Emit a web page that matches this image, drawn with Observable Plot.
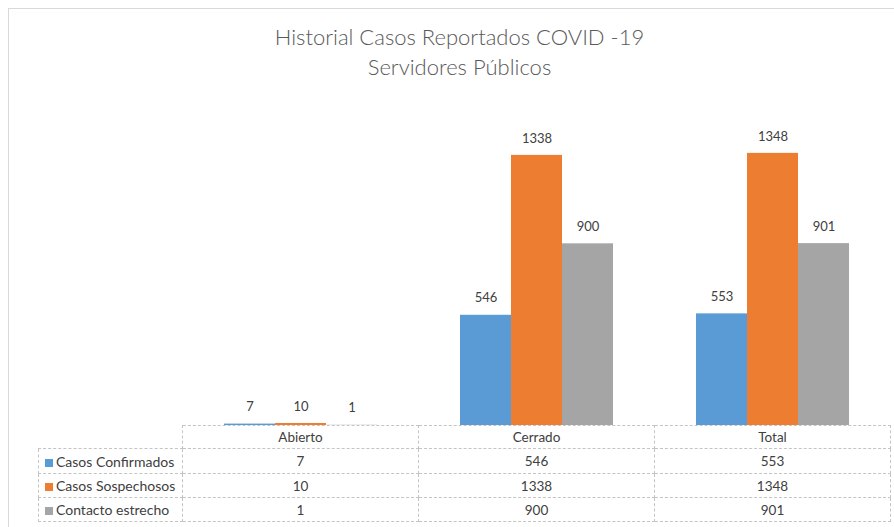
<!DOCTYPE html>
<html>
<head>
<meta charset="utf-8">
<script src="https://cdn.jsdelivr.net/npm/d3@7"></script>
<script src="https://cdn.jsdelivr.net/npm/@observablehq/plot@0.6"></script>
<style>
  html, body { margin: 0; padding: 0; background: #fff; }
  body { width: 894px; height: 527px; overflow: hidden; position: relative; font-family: Lato, "Open Sans", sans-serif; }
  #frame { position: absolute; left: 8px; top: 8px; width: 920px; height: 560px; border: 1px solid #d9d9d9; box-sizing: border-box; }
  #title { position: absolute; left: 9px; width: 901px; top: 22px; text-align: center; color: #595959; font-size: 22px; font-weight: 300; line-height: 30px; }
  #chart { position: absolute; left: 0; top: 0; }
  table { position: absolute; left: 38px; top: 425px; border-collapse: collapse; color: #404040; font-size: 13.5px; table-layout: fixed; }
  td { border: 1px dashed #c4c4c4; padding: 0; text-align: center; white-space: nowrap; overflow: hidden; }
  td.lab { text-align: left; padding-left: 6px; font-size: 14px; }
  td.blank { border-top: none; border-left: none; }
  .key { display: inline-block; width: 8px; height: 8px; margin-right: 3px; vertical-align: 0px; }
</style>
</head>
<body>
<div id="frame"></div>
<div id="title">Historial Casos Reportados COVID -19<br>Servidores Públicos</div>
<div id="chart"></div>
<table id="tbl"></table>
<script>
const categories = ["Abierto", "Cerrado", "Total"];
const series = ["Casos Confirmados", "Casos Sospechosos", "Contacto estrecho"];
const confirmados = [7, 546, 553];
const sospechosos = [10, 1338, 1348];
const contacto = [1, 900, 901];
const colors = ["#5B9BD5", "#ED7D31", "#A5A5A5"];

const valuesBySeries = [confirmados, sospechosos, contacto];
const data = categories.flatMap((c, i) =>
  series.map((s, j) => ({cat: c, serie: s, value: valuesBySeries[j][i]}))
);

const chart = Plot.plot({
  width: 894,
  height: 426,
  marginLeft: 182,
  marginRight: 4,
  marginTop: 102,
  marginBottom: 1,
  style: {fontFamily: "Lato, 'Open Sans', sans-serif", fontSize: "13px", background: "transparent"},
  facet: {data, x: "cat"},
  fx: {domain: categories, padding: 0, axis: null},
  x: {domain: series, paddingInner: 0, paddingOuter: 0.77, axis: null},
  y: {domain: [0, 1600], axis: null},
  color: {domain: series, range: colors},
  marks: [
    Plot.barY(data, {x: "serie", y: "value", fill: "serie"}),
    Plot.text(data, {x: "serie", y: "value", text: d => String(d.value), dy: -17, fill: "#404040", fontSize: 13})
  ]
});
document.getElementById("chart").appendChild(chart);

// data table below the plot
const colW = [144, 236, 236, 236];
const rowH = [23, 25, 24, 24];
const tbl = document.getElementById("tbl");
const cg = document.createElement("colgroup");
colW.forEach(w => { const c = document.createElement("col"); c.style.width = w + "px"; cg.appendChild(c); });
tbl.appendChild(cg);
const hr = document.createElement("tr");
hr.style.height = rowH[0] + "px";
const blank = document.createElement("td"); blank.className = "blank"; hr.appendChild(blank);
categories.forEach(c => { const td = document.createElement("td"); td.textContent = c; hr.appendChild(td); });
tbl.appendChild(hr);
series.forEach((s, j) => {
  const tr = document.createElement("tr");
  tr.style.height = rowH[j + 1] + "px";
  const lab = document.createElement("td");
  lab.className = "lab";
  lab.innerHTML = `<span class="key" style="background:${colors[j]}"></span>${s}`;
  tr.appendChild(lab);
  valuesBySeries[j].forEach(v => { const td = document.createElement("td"); td.textContent = v; tr.appendChild(td); });
  tbl.appendChild(tr);
});
</script>
</body>
</html>
